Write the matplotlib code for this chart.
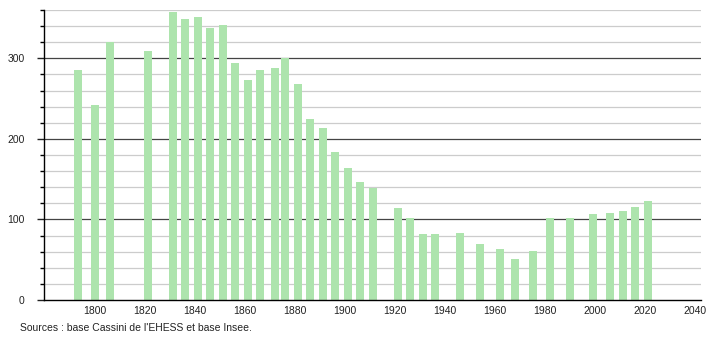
import numpy as np
import matplotlib
matplotlib.use("Agg")
import matplotlib.pyplot as plt
from matplotlib.ticker import MultipleLocator

# années de recensement et population
years = [1793, 1800, 1806, 1821, 1831, 1836, 1841, 1846, 1851, 1856,
         1861, 1866, 1872, 1876, 1881, 1886, 1891, 1896, 1901, 1906,
         1911, 1921, 1926, 1931, 1936, 1946, 1954, 1962, 1968, 1975,
         1982, 1990, 1999, 2006, 2011, 2016, 2021]
population = [285, 242, 320, 309, 357, 349, 351, 338, 341, 294,
              273, 286, 288, 300, 268, 225, 213, 184, 164, 146,
              139, 114, 102, 82, 82, 83, 70, 63, 51, 61,
              102, 102, 107, 108, 110, 115, 123]
xticks = [1800, 1820, 1840, 1860, 1880, 1900, 1920, 1940, 1960, 1980, 2000, 2020, 2040]
yticks = [0, 100, 200, 300]

plt.rcParams['font.family'] = ['Liberation Sans', 'DejaVu Sans']

fig = plt.figure(figsize=(7.1, 3.4), dpi=100)
ax = fig.add_axes([44 / 710, 1 - 300 / 340, 657 / 710, 290 / 340])

# grille
for v in range(20, 361, 20):
    if v % 100 == 0:
        ax.axhline(v, color='#444444', linewidth=0.9, zorder=1)
    else:
        ax.axhline(v, color='#cccccc', linewidth=0.9, zorder=1)

ax.bar(years, population, width=3.2, color='#ade4ad', zorder=2)

ax.set_xlim(1779.6, 2042.4)
ax.set_ylim(0, 360)
ax.set_xticks(xticks)
ax.set_yticks(yticks)
ax.yaxis.set_minor_locator(MultipleLocator(20))

for side in ['top', 'right']:
    ax.spines[side].set_visible(False)
ax.spines['left'].set_linewidth(1.0)
ax.spines['bottom'].set_linewidth(1.0)

ax.tick_params(axis='x', length=0, pad=4, labelsize=7.5, colors='#222222')
ax.tick_params(axis='y', which='major', length=5, width=1, pad=9, labelsize=7.5, colors='#222222')
ax.tick_params(axis='y', which='minor', length=3, width=1)

fig.text(20 / 710, 1 - 328 / 340, "Sources : base Cassini de l'EHESS et base Insee.",
         fontsize=7.5, color='#222222', va='center', ha='left')

plt.savefig("out.png", dpi=100)
